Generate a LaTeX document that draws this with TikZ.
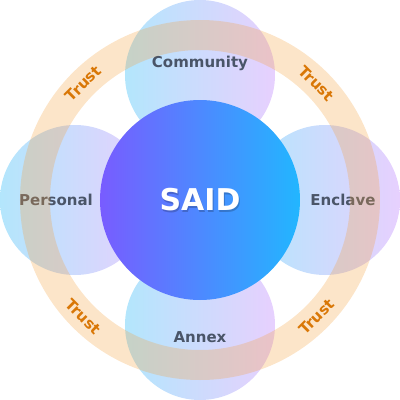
\documentclass[tikz,border=0pt]{standalone}
\usepackage{fontspec}
\setmainfont{DejaVu Sans}
\usetikzlibrary{positioning}
\definecolor{hubleft}{RGB}{120,92,255}
\definecolor{hubright}{RGB}{34,182,255}
\definecolor{satleft}{RGB}{56,189,248}
\definecolor{satright}{RGB}{192,132,252}
\definecolor{ringorange}{RGB}{245,160,60}
\definecolor{trustorange}{RGB}{217,119,6}
\definecolor{lblgray}{RGB}{74,85,104}

\begin{document}
\begin{tikzpicture}[
  x=1pt, y=1pt,
  sat/.style={circle, minimum size=150pt, inner sep=0pt, left color=satleft, right color=satright, fill opacity=0.38},
  satlbl/.style={text=lblgray, font=\fontsize{15}{18}\selectfont\bfseries},
  ring/.style={circle, draw=ringorange, line width=30pt, draw opacity=0.28, minimum size=330pt, inner sep=0pt, outer sep=0pt},
  hub/.style={circle, minimum size=200pt, inner sep=0pt, left color=hubleft, right color=hubright},
  hubtxt/.style={text=white, font=\fontsize{30}{36}\selectfont\bfseries},
  trust/.style={text=trustorange, font=\fontsize{15}{18}\selectfont\bfseries},
]
  \useasboundingbox (-200,-200) rectangle (200,200);
  \node[sat] (community) at (90:125)  {};
  \node[sat] (enclave)   at (0:125)   {};
  \node[sat] (annex)     at (270:125) {};
  \node[sat] (personal)  at (180:125) {};
  \node[satlbl] (communitylbl) at (90:137)  {Community};
  \node[satlbl] (enclavelbl)   at (0:143)   {Enclave};
  \node[satlbl] (annexlbl)     at (270:137) {Annex};
  \node[satlbl] (personallbl)  at (180:144) {Personal};
  \node[ring] (ring) at (0,0) {};
  \node[hub] (said) at (0,0) {};
  \node[hubtxt, text=black, opacity=0.2, xshift=1pt, yshift=-1.5pt] (saidshadow) at (said) {SAID};
  \node[hubtxt] (saidlbl) at (said) {SAID};
  \node[trust, rotate=45]  (trustnw) at (ring.north west) {Trust};
  \node[trust, rotate=-45] (trustne) at (ring.north east) {Trust};
  \node[trust, rotate=-45] (trustsw) at (ring.south west) {Trust};
  \node[trust, rotate=45]  (trustse) at (ring.south east) {Trust};
\end{tikzpicture}
\end{document}
